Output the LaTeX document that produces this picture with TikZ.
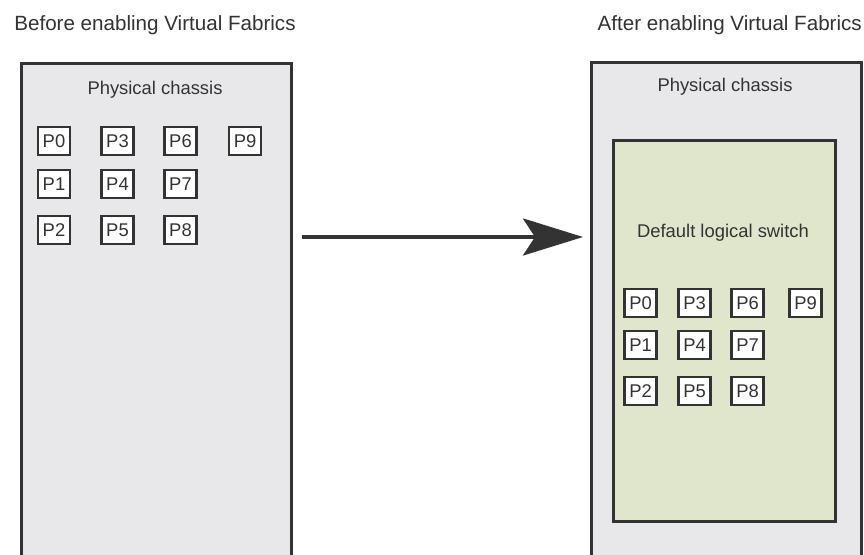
\documentclass[tikz,border=0pt]{standalone}
\usepackage{fontspec}
\setmainfont{Liberation Sans}
\usetikzlibrary{arrows.meta}
\definecolor{ink}{HTML}{333333}
\definecolor{chassisfill}{HTML}{E8E8EA}
\definecolor{lsfill}{HTML}{E0E6CB}
\tikzset{
  txt/.style={text=ink, font=\fontsize{18.4}{22}\selectfont, inner sep=0pt},
  ttl/.style={text=ink, font=\fontsize{20.6}{24}\selectfont, inner sep=0pt},
  chassis/.style={draw=ink, fill=chassisfill, line width=3pt, inner sep=0pt},
  lswitch/.style={draw=ink, fill=lsfill, line width=2.5pt, inner sep=0pt},
  port/.style={draw=ink, fill=white, line width=2.5pt, minimum width=32pt, minimum height=28pt, inner sep=0pt, text=ink, font=\fontsize{18.4}{22}\selectfont},
  bigarrow/.style={draw=ink, line width=4pt, -{Stealth[length=60pt, width=37pt, inset=12pt]}}
}
\begin{document}
\begin{tikzpicture}[x=1pt, y=-1pt]
\useasboundingbox (0,0) rectangle (864,554);
\clip (0,0) rectangle (864,554);
\fill[white] (0,0) rectangle (864,554);
% titles
\node[ttl, anchor=center] (t1) at (155,25) {Before enabling Virtual Fabrics};
\node[ttl, anchor=east] (t2) at (862,25) {After enabling Virtual Fabrics};
% left chassis
\node[chassis, minimum width=270pt, minimum height=520pt, anchor=north west] (lbox) at (20,62) {};
\node[txt] (lpc) at (155,90) {Physical chassis};
\foreach \n/\x/\y in {0/54/141, 1/54/184, 2/54/230, 3/117.5/141, 4/117.5/184, 5/117.5/230, 6/180.5/141, 7/180.5/184, 8/180.5/230, 9/245/141}
  \node[port] (lp\n) at (\x,\y) {P\n};
% right chassis
\node[chassis, minimum width=270pt, minimum height=520pt, anchor=north west] (rbox) at (590,61) {};
\node[txt] (rpc) at (725,87) {Physical chassis};
\node[lswitch, minimum width=222pt, minimum height=381pt, anchor=north west] (ls) at (612,139) {};
\node[txt] (lst) at (723,233) {Default logical switch};
\foreach \n/\x/\y in {0/640.5/303, 1/640.5/345, 2/640.5/391, 3/694.5/303, 4/694.5/345, 5/694.5/391, 6/747.5/303, 7/747.5/345, 8/747.5/391, 9/805.5/303}
  \node[port] (rp\n) at (\x,\y) {P\n};
% arrow
\coordinate (aa) at (lbox.east |- 0,237);
\coordinate (ab) at (rbox.west |- 0,237);
\draw[bigarrow, shorten <=9pt, shorten >=7pt] (aa) -- (ab);
\end{tikzpicture}
\end{document}
